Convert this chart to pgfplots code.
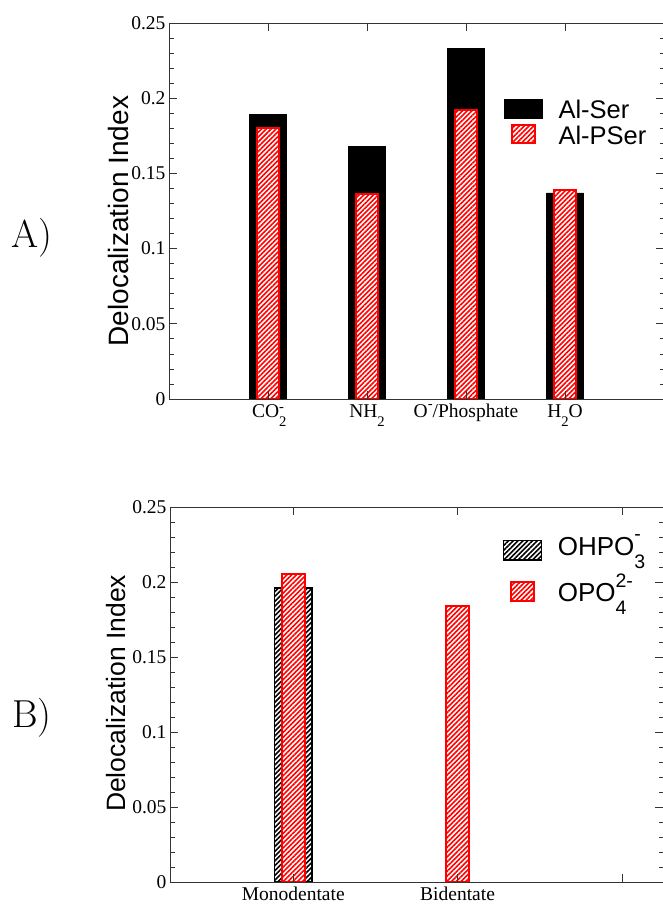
\documentclass[border=0pt]{standalone}
\usepackage{fontspec}
\usepackage{graphicx}
\usepackage{pgfplots}
\pgfplotsset{compat=1.18}
\usetikzlibrary{patterns.meta}
\newfontfamily\tnr{Liberation Serif}
\newfontfamily\hlv{Liberation Sans}
% xmgrace-like stacked sub/superscripts
\newcommand{\lo}[2][-0.45em]{\raisebox{#1}{\scalebox{0.75}{#2}}}
\newcommand{\hi}[2][0.4em]{\raisebox{#1}{\scalebox{0.75}{#2}}}
\newcommand{\lohi}[4]{\rlap{\lo[#1]{#2}}\hi[#3]{#4}}
\tikzset{
  redhatch/.style={draw=red, line width=2pt, preaction={fill=white},
    pattern={Lines[angle=45,distance=3.4pt,line width=1.6pt]}, pattern color=red},
  blackhatch/.style={draw=black, line width=1.5pt, preaction={fill=white},
    pattern={Lines[angle=45,distance=3.4pt,line width=1.6pt]}, pattern color=black},
}
\pgfplotsset{
  panel/.style={
    scale only axis, axis on top,
    ymin=0, ymax=0.25,
    ytick={0,0.05,0.1,0.15,0.2,0.25},
    yticklabels={0,0.05,0.1,0.15,0.2,0.25},
    minor y tick num=4,
    major tick length=8pt, minor tick length=4.5pt,
    axis line style={black!80, line width=0.8pt},
    every tick/.style={black!80, line width=0.7pt},
    ticklabel style={font=\tnr\fontsize{19.5}{22}\selectfont},
    xticklabel style={anchor=north, inner sep=0pt, text height=13pt, text depth=4pt, yshift=-5pt},
    legend cell align=left,
  }}
\begin{document}
\begin{tikzpicture}
% ---------- panel A
\begin{axis}[panel, at={(169pt,506pt)}, anchor=south west,
  width=495pt, height=376pt, xmin=0, xmax=5,
  xtick={1,2,3,4},
  xticklabels={CO\lohi{-0.5em}{2}{0.3em}{-}, NH\lo[-0.5em]{2}, O\hi[0.45em]{-}/Phosphate, H\lo[-0.5em]{2}O},
  ylabel={Delocalization Index},
  ylabel style={font=\hlv\fontsize{28}{30}\selectfont, at={(axis description cs:-0.103,0.473)}, anchor=center},
  legend style={at={(rel axis cs:0.6768,0.797)}, anchor=north west, draw=none, fill=none,
    inner sep=0pt, outer sep=0pt, row sep=5.2pt, column sep=15.7pt,
    font=\hlv\fontsize{25.5}{28}\selectfont,
    nodes={inner sep=0pt, text height=18.5pt, text depth=0pt, anchor=base west}},
]
\addplot[ybar, bar width=0.374, bar shift=0pt, fill=black, draw=black, line width=0.8pt,
  legend image code/.code={\draw[fill=black, draw=black] (-19pt,0.4pt) rectangle (19pt,18.8pt);}]
  coordinates {(1,0.189) (2,0.168) (3,0.233) (4,0.137)};
\addlegendentry{Al-Ser}
\addplot[ybar, bar width=0.232, bar shift=0pt, redhatch,
  legend image code/.code={\draw[redhatch] (-11.5pt,1.2pt) rectangle (11.5pt,19.8pt);}]
  coordinates {(1,0.180) (2,0.136) (3,0.192) (4,0.139)};
\addlegendentry{Al-PSer}
\end{axis}
% ---------- panel B
\begin{axis}[panel, at={(170pt,23pt)}, anchor=south west,
  width=493pt, height=375pt, xmin=0.25, xmax=3.25,
  xtick={1,2,3},
  xticklabels={Monodentate, Bidentate, {}},
  ylabel={Delocalization Index},
  ylabel style={font=\hlv\fontsize{26.5}{28}\selectfont, at={(axis description cs:-0.1095,0.503)}, anchor=center},
  legend style={at={(rel axis cs:0.675,0.9387)}, anchor=north west, draw=none, fill=none,
    inner sep=0pt, outer sep=0pt, row sep=9pt, column sep=15.7pt,
    font=\hlv\fontsize{26}{28}\selectfont,
    nodes={inner sep=0pt, text height=26pt, text depth=11pt, anchor=base west}},
]
\addplot[ybar, bar width=0.23, bar shift=0pt, blackhatch,
  legend image code/.code={\draw[blackhatch] (-18.9pt,-4pt) rectangle (18.9pt,15.3pt);}]
  coordinates {(1,0.196)};
\addlegendentry{OHPO\lohi{-0.48em}{3}{0.6em}{-}}
\addplot[ybar, bar width=0.14, bar shift=0pt, redhatch,
  legend image code/.code={\draw[redhatch] (-11.5pt,1pt) rectangle (11.5pt,20pt);}]
  coordinates {(1,0.205) (2,0.184)};
\addlegendentry{OPO\lohi{-0.48em}{4}{0.55em}{2-}}
\end{axis}
% panel letters
\node[anchor=base west, inner sep=0pt, font=\fontsize{39}{42}\selectfont] at (11pt,657pt) {A)};
\node[anchor=base west, inner sep=0pt, font=\fontsize{39}{42}\selectfont] at (12pt,177pt) {B)};
\pgfresetboundingbox
\path (0pt,0pt) rectangle (662pt,905pt);
\end{tikzpicture}
\end{document}
